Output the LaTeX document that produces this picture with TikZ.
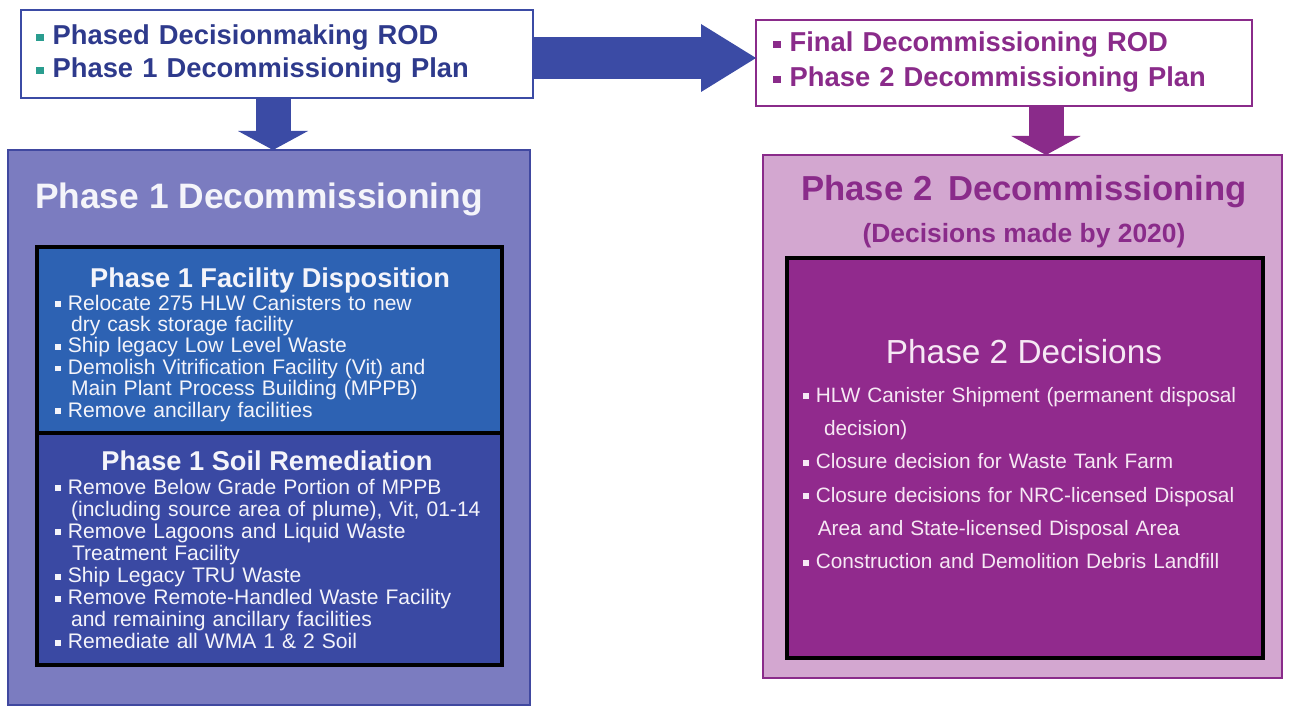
\documentclass[tikz,border=0pt]{standalone}
\usepackage{fontspec}
\setmainfont{Liberation Sans}
\usepackage{xcolor}
\usetikzlibrary{positioning}
\usetikzlibrary{arrows.meta}

\definecolor{arrowblue}{RGB}{59,75,165}
\definecolor{navytext}{RGB}{46,58,140}
\definecolor{tealbul}{RGB}{42,157,143}
\definecolor{phaseonefill}{RGB}{123,124,192}
\definecolor{phaseoneline}{RGB}{64,72,160}
\definecolor{facilityfill}{RGB}{45,98,179}
\definecolor{soilfill}{RGB}{58,73,163}
\definecolor{plum}{RGB}{138,43,138}
\definecolor{phasetwofill}{RGB}{211,167,208}
\definecolor{decisionfill}{RGB}{145,42,141}
\definecolor{offwhite}{RGB}{244,244,250}
\definecolor{pinkwhite}{RGB}{246,232,244}

% square bullet, current colour unless given
\newcommand\bul[1][.]{{\color{#1}\rule[.14em]{.28em}{.28em}}\hspace{.32em}}
\newcommand\contline[1]{\hspace*{#1}}

\tikzset{
  box/.style={draw, rectangle, inner sep=0pt, outer sep=0pt, anchor=north west},
  listtext/.style={inner sep=0pt, anchor=base west, align=left, text width=380pt},
  titletext/.style={inner sep=0pt, anchor=base},
}

\begin{document}
\begin{tikzpicture}[x=0.75pt,y=-0.75pt]
  \useasboundingbox (0,0) rectangle (1302,706);
  % --- Top boxes
  \node[box, arrowblue, line width=2pt, fill=white, minimum width=384pt, minimum height=66pt] (plan1) at (21,10) {};
  \node[box, plum, line width=2pt, fill=white, minimum width=372pt, minimum height=64.5pt] (plan2) at (756,20) {};
  % --- Phase 1 side
  \node[box, phaseoneline, line width=1.5pt, fill=phaseonefill, minimum width=391.5pt, minimum height=416.25pt] (phase1) at (8,150) {};
  \node[box, black, line width=2.4pt, fill=facilityfill, minimum width=348.75pt, minimum height=139.5pt] (facility) at (37,247) {};
  \node[box, black, line width=2.4pt, fill=soilfill, minimum width=348.75pt, minimum height=174pt, below=0pt of facility] (soil) {};
  % --- Phase 2 side
  \node[box, plum, line width=2pt, fill=phasetwofill, minimum width=389.25pt, minimum height=392.25pt] (phase2) at (763,155) {};
  \node[box, black, line width=2.4pt, fill=decisionfill, minimum width=357pt, minimum height=300pt] (decisions) at (787,258) {};

  % --- Texts of the top boxes
  \node[listtext, text=navytext, font=\fontsize{20.5}{24.75}\selectfont\bfseries] (plan1text) at (36,45)
    {\bul[tealbul]Phased Decisionmaking ROD\\
     \bul[tealbul]Phase 1 Decommissioning Plan};
  \node[listtext, text=plum, font=\fontsize{20.5}{26.25}\selectfont\bfseries] (plan2text) at (773,52)
    {\bul Final Decommissioning ROD\\
     \bul Phase 2 Decommissioning Plan};

  % --- Phase 1 texts
  \node[titletext, text=offwhite, font=\fontsize{26.5}{30}\selectfont\bfseries] (phase1title) at (259,208) {Phase 1 Decommissioning};
  \node[titletext, text=offwhite, font=\fontsize{20.4}{24}\selectfont\bfseries] (facilitytitle) at (270,287) {Phase 1 Facility Disposition};
  \node[listtext, text=offwhite, font=\fontsize{15.8}{16.1}\selectfont] (facilitylist) at (55,310)
    {\bul Relocate 275 HLW Canisters to new\\
     \contline{.75em}dry cask storage facility\\
     \bul Ship legacy Low Level Waste\\
     \bul Demolish Vitrification Facility (Vit) and\\
     \contline{.75em}Main Plant Process Building (MPPB)\\
     \bul Remove ancillary facilities};
  \node[titletext, text=offwhite, font=\fontsize{20.4}{24}\selectfont\bfseries] (soiltitle) at (267,470) {Phase 1 Soil Remediation};
  \node[listtext, text=offwhite, font=\fontsize{15.8}{16.6}\selectfont] (soillist) at (55,494)
    {\bul Remove Below Grade Portion of MPPB\\
     \contline{.75em}(including source area of plume), Vit, 01-14\\
     \bul Remove Lagoons and Liquid Waste\\
     \contline{.8em}Treatment Facility\\
     \bul Ship Legacy TRU Waste\\
     \bul Remove Remote-Handled Waste Facility\\
     \contline{.75em}and remaining ancillary facilities\\
     \bul Remediate all WMA 1 \& 2 Soil};

  % --- Phase 2 texts
  \node[titletext, text=plum, font=\fontsize{26}{30}\selectfont\bfseries] (phase2title) at (1024,200) {Phase 2\hspace{.45em}Decommissioning};
  \node[titletext, text=plum, font=\fontsize{19.8}{24}\selectfont\bfseries] (phase2sub) at (1024,242) {(Decisions made by 2020)};
  \node[titletext, text=pinkwhite, font=\fontsize{25}{30}\selectfont] (decisionstitle) at (1024,363) {Phase 2 Decisions};
  \node[listtext, text=pinkwhite, font=\fontsize{15.6}{25}\selectfont] (decisionlist) at (803,402)
    {\bul HLW Canister Shipment (permanent disposal\\
     \contline{1em}decision)\\
     \bul Closure decision for Waste Tank Farm\\
     \bul Closure decisions for NRC-licensed Disposal\\
     \contline{.7em}Area and State-licensed Disposal Area\\
     \bul Construction and Demolition Debris Landfill};

  % --- Block arrows
  \coordinate (downone) at (273,0);
  \coordinate (downtwo) at (1046,0);
  \coordinate (acrossrow) at (0,58);
  \draw[arrowblue, line width=26.25pt, -{Triangle[length=14.25pt, width=52.5pt, line width=0pt]}] (plan1.south -| downone) -- (phase1.north -| downone);
  \draw[arrowblue, line width=31.5pt, -{Triangle[length=41.25pt, width=51pt, line width=0pt]}] (plan1.east |- acrossrow) -- (plan2.west |- acrossrow);
  \draw[plum, line width=26.25pt, -{Triangle[length=14.25pt, width=52pt, line width=0pt]}] (plan2.south -| downtwo) -- (phase2.north -| downtwo);
\end{tikzpicture}
\end{document}
